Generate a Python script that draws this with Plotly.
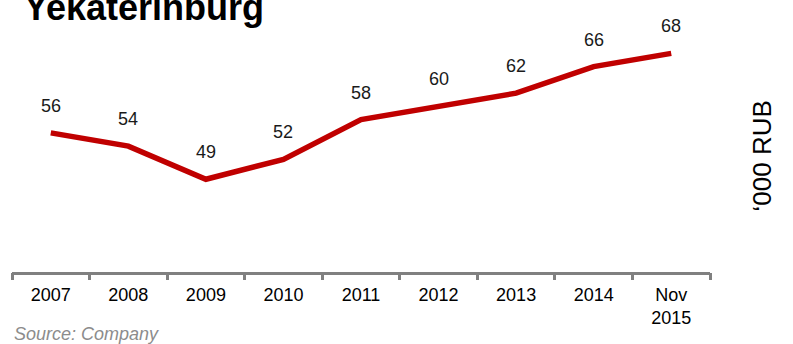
import plotly.graph_objects as go

categories = ["2007", "2008", "2009", "2010", "2011", "2012", "2013", "2014", "Nov<br>2015"]
values = [56, 54, 49, 52, 58, 60, 62, 66, 68]
labels = ["56", "54", "49", "52", "58", "60", "62", "66", "68"]

title_text = "Yekaterinburg"
unit_text = "\u2018000 RUB"
source_text = "Source: Company"

W, H = 793, 344
ml, mr, mt, mb = 12, 83, 0, 72
plot_h = H - mt - mb
plot_w = W - ml - mr

fig = go.Figure()
fig.add_trace(go.Scatter(
    x=list(range(len(categories))), y=values, mode="lines",
    line=dict(color="#C00000", width=5.5), hoverinfo="skip", cliponaxis=False,
))

for i, (v, t) in enumerate(zip(values, labels)):
    fig.add_annotation(x=i, y=v, text=t, showarrow=False, yshift=27,
                       xanchor="center", yanchor="middle",
                       font=dict(family="Liberation Sans, Arial", size=18, color="#1a1a1a"))

fig.add_annotation(xref="paper", yref="paper", x=(22 - ml) / plot_w, y=1, yshift=-7.5,
                   xanchor="left", yanchor="middle", showarrow=False,
                   text="<b>" + title_text + "</b>",
                   font=dict(family="Liberation Sans, Arial", size=36, color="#000000"))

fig.add_annotation(xref="paper", yref="paper", x=(761.5 - ml) / plot_w, y=1 - 156 / plot_h,
                   xanchor="center", yanchor="middle", showarrow=False, textangle=-90,
                   text=unit_text,
                   font=dict(family="Liberation Sans, Arial", size=26, color="#000000"))

fig.add_annotation(xref="paper", yref="paper", x=(12 - ml) / plot_w, y=-(334 - plot_h) / plot_h,
                   xanchor="left", yanchor="middle", showarrow=False,
                   text="<i>" + source_text + "</i>",
                   font=dict(family="Liberation Sans, Arial", size=18, color="#8c8c8c"))

fig.update_layout(
    width=W, height=H,
    margin=dict(l=ml, r=mr, t=mt, b=mb),
    paper_bgcolor="white", plot_bgcolor="white",
    showlegend=False,
    xaxis=dict(
        range=[-0.5, len(categories) - 0.5],
        tickmode="array", tickvals=list(range(len(categories))), ticktext=categories,
        showgrid=False, zeroline=False,
        showline=True, linecolor="#808080", linewidth=3,
        ticks="", ticklabelstandoff=4,
        tickfont=dict(family="Liberation Sans, Arial", size=18, color="#000000"),
        fixedrange=True,
    ),
    xaxis2=dict(
        overlaying="x", anchor="y", side="bottom",
        range=[-0.5, len(categories) - 0.5],
        tickmode="array", tickvals=[i - 0.5 for i in range(len(categories) + 1)],
        showticklabels=False, ticks="outside", ticklen=7, tickwidth=3, tickcolor="#808080",
        showgrid=False, zeroline=False, showline=False,
    ),
    yaxis=dict(range=[35.0, 76.06], visible=False, fixedrange=True),
)
fig.add_trace(go.Scatter(x=[None], y=[None], xaxis="x2", showlegend=False, hoverinfo="skip"))

fig.write_html("out.html")
